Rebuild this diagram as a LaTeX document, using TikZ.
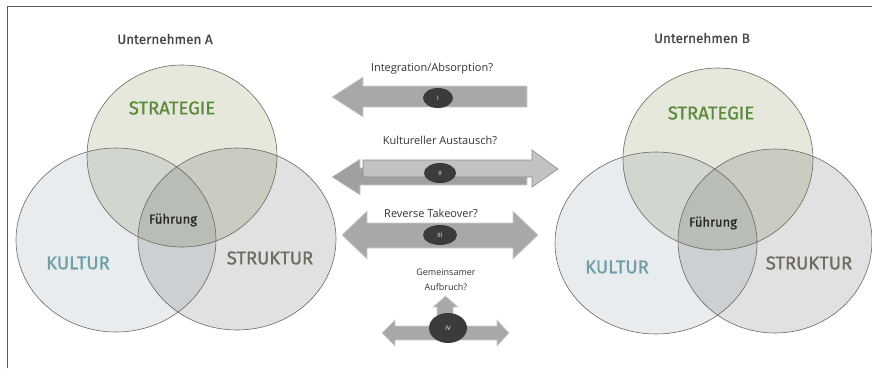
\documentclass[tikz,border=0pt]{standalone}
\usepackage{fontspec}
\setmainfont{Fira Sans}
\newfontfamily\heavyfont{Fira Sans}[FakeBold=0.9]
\newfontfamily\arrowfont{Open Sans}
\usetikzlibrary{positioning}

\tikzset{
  firm/.style={font=\heavyfont\fontsize{13.5}{15}\selectfont, text=black!72},
  field/.style={font=\heavyfont\fontsize{18.5}{20}\selectfont},
  lead/.style={font=\heavyfont\fontsize{13}{14}\selectfont, text=black!85},
  question/.style={font=\arrowfont\fontsize{11}{13}\selectfont, text=black!80},
  pill/.style={fill=pilldark, draw=none},
  numeral/.style={font=\arrowfont\fontsize{6}{7}\selectfont, text=white},
  blockarrow/.style={fill=arrowgray, draw=arrowline, line width=0.6pt}
}

\begin{document}
\begin{tikzpicture}[x=1pt, y=-1pt, >=latex]

\definecolor{stratfill}{HTML}{E6E8DC}
\definecolor{kultfill}{HTML}{E8ECEF}
\definecolor{struktfill}{HTML}{E1E1E1}
\definecolor{rim}{HTML}{6E6660}
\definecolor{stratgreen}{HTML}{5B8A3C}
\definecolor{kultblue}{HTML}{6F9EA6}
\definecolor{struktbrown}{HTML}{6E6A60}
\definecolor{arrowgray}{HTML}{A8A8A8}
\definecolor{arrowline}{HTML}{CFCFCF}
\definecolor{pilldark}{HTML}{3B3B3B}

\useasboundingbox (0,0) rectangle (872,368);

% frame
\draw[black!65, line width=0.9pt] (7,368)--(7,6)--(872,6);

% Unternehmen A
\begin{scope}[blend mode=multiply]
\fill[kultfill] (116,240) ellipse (100 and 92);
\fill[struktfill] (237,239) ellipse (99 and 91);
\fill[stratfill] (182,156) ellipse (95 and 91);
\end{scope}
\draw[rim, line width=0.6pt] (116,240) ellipse (100 and 92);
\draw[rim, line width=0.6pt] (237,239) ellipse (99 and 91);
\draw[rim, line width=0.6pt] (182,156) ellipse (95 and 91);

\node[firm] (firmA) at (165,39) {Unternehmen A};
\node[field, text=stratgreen] (stratA) at (172,108) {STRATEGIE};
\node[field, text=kultblue] (kultA) at (78,263) {KULTUR};
\node[field, text=struktbrown] (struktA) at (270,258) {STRUKTUR};
\node[lead] (leadA) at (173,220) {Führung};

% Unternehmen B
\begin{scope}[blend mode=multiply]
\fill[kultfill] (656,243) ellipse (101 and 91);
\fill[struktfill] (775,241) ellipse (97 and 92);
\fill[stratfill] (718,159) ellipse (95 and 91);
\end{scope}
\draw[rim, line width=0.6pt] (656,243) ellipse (101 and 91);
\draw[rim, line width=0.6pt] (775,241) ellipse (97 and 92);
\draw[rim, line width=0.6pt] (718,159) ellipse (95 and 91);

\node[firm] (firmB) at (702,38) {Unternehmen B};
\node[field, text=stratgreen] (stratB) at (711,113) {STRATEGIE};
\node[field, text=kultblue] (kultB) at (617,267) {KULTUR};
\node[field, text=struktbrown] (struktB) at (809,263) {STRUKTUR};
\node[lead] (leadB) at (713,223) {Führung};

% I
\draw[blockarrow] (527,86)--(363,86)--(363,77)--(332,97)--(363,117)--(363,107)--(527,107)--cycle;
\fill[pill] (438,98) ellipse (15 and 10);
\node[numeral] (numI) at (438,98) {I};
\node[question] (qI) at (432,69) {Integration/Absorption?};

% II
\draw[blockarrow, fill=arrowgray!95!black, draw=arrowline] (527,168)--(360,168)--(360,159)--(332,177)--(360,195)--(360,185)--(527,185)--cycle;
\draw[blockarrow, fill=arrowgray!70, draw=black!45] (363,160)--(532,160)--(532,150)--(558,169)--(532,187)--(532,177)--(363,177)--cycle;
\fill[pill] (440,173) ellipse (16 and 10);
\node[numeral] (numII) at (440,173) {II};
\node[question] (qII) at (440,140) {Kultureller Austausch?};

% III
\draw[blockarrow] (342,235)--(367,211)--(367,223)--(513,223)--(513,211)--(538,235)--(513,259)--(513,248)--(367,248)--(367,259)--cycle;
\fill[pill] (440,235) ellipse (17 and 10);
\node[numeral] (numIII) at (440,235) {III};
\node[question] (qIII) at (431,213) {Reverse Takeover?};

% IV
\draw[blockarrow] (437,330)--(437,307)--(433,307)--(445.5,296)--(458,307)--(453,307)--(453,330);
\draw[blockarrow] (382,333)--(395,320)--(395,326)--(497,326)--(497,320)--(509,333)--(497,346)--(497,340)--(395,340)--(395,346)--cycle;
\fill[pill] (448,328) ellipse (19 and 15);
\node[numeral] (numIV) at (448,328) {IV};
\node[question, font=\arrowfont\fontsize{9}{15}\selectfont, align=center] (qIV) at (446,280) {Gemeinsamer\\Aufbruch?};

\end{tikzpicture}
\end{document}
